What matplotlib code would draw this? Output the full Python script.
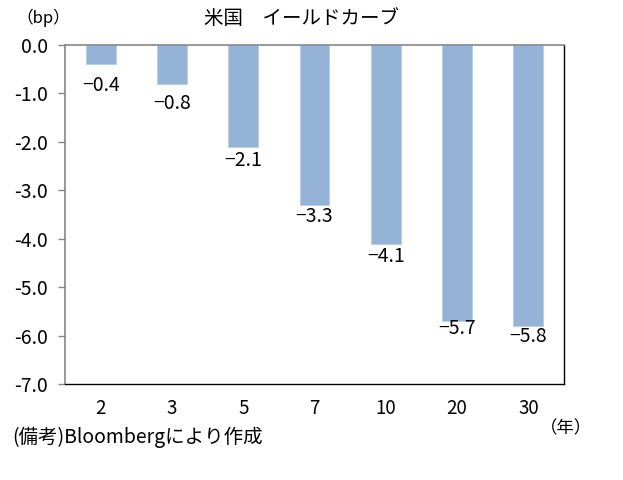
import matplotlib
matplotlib.use("Agg")
import matplotlib.pyplot as plt

plt.rcParams['font.family'] = ['Noto Sans CJK JP', 'DejaVu Sans']

categories = ["2", "3", "5", "7", "10", "20", "30"]
values = [-0.4, -0.8, -2.1, -3.3, -4.1, -5.7, -5.8]
label_texts = ["−0.4", "−0.8", "−2.1", "−3.3", "−4.1", "−5.7", "−5.8"]
y_ticks = [0, -1, -2, -3, -4, -5, -6, -7]
y_ticklabels = ["0.0", "-1.0", "-2.0", "-3.0", "-4.0", "-5.0", "-6.0", "-7.0"]
title = "米国　イールドカーブ"
unit_y = "（bp）"
unit_x = "（年）"
note = "(備考)Bloombergにより作成"

# label offsets below bar ends (pixels) -- layout only
label_offsets = [21, 20, 14, 12, 13, 7, 11]

fig = plt.figure(figsize=(6.23, 4.80), dpi=100)
ax = fig.add_axes([65/623, 1-384/480, (564-65)/623, (384-45)/480])

x = list(range(len(categories)))
ax.bar(x, values, width=0.42, color="#95B3D7", edgecolor="#B9CDE5", linewidth=0.6, zorder=2)

ax.set_xlim(-0.5, len(categories) - 0.5)
ax.set_ylim(-7, 0)
ax.set_yticks(y_ticks)
ax.set_yticklabels(y_ticklabels, fontsize=14)
ax.set_xticks(x)
ax.set_xticklabels(categories, fontsize=13.5)
ax.tick_params(axis='x', length=0, pad=10)
ax.tick_params(axis='y', length=5, color="#868686", width=1, pad=7)

for s in ['left', 'top']:
    ax.spines[s].set_color("#868686")
    ax.spines[s].set_linewidth(1.2)
for s in ['right', 'bottom']:
    ax.spines[s].set_color("black")
    ax.spines[s].set_linewidth(1.0)

for xi, v, t, off in zip(x, values, label_texts, label_offsets):
    ax.annotate(t, xy=(xi, v), xytext=(0, -off), textcoords='offset pixels',
                ha='center', va='center', fontsize=14)

fig.text(301/623, 1-18/480, title, ha='center', va='center', fontsize=14)
fig.text(43/623, 1-18/480, unit_y, ha='center', va='center', fontsize=12)
fig.text(566/623, 1-428/480, unit_x, ha='center', va='center', fontsize=12.5)
fig.text(12/623, 1-437/480, note, ha='left', va='center', fontsize=14)

fig.savefig("out.png", dpi=100)
